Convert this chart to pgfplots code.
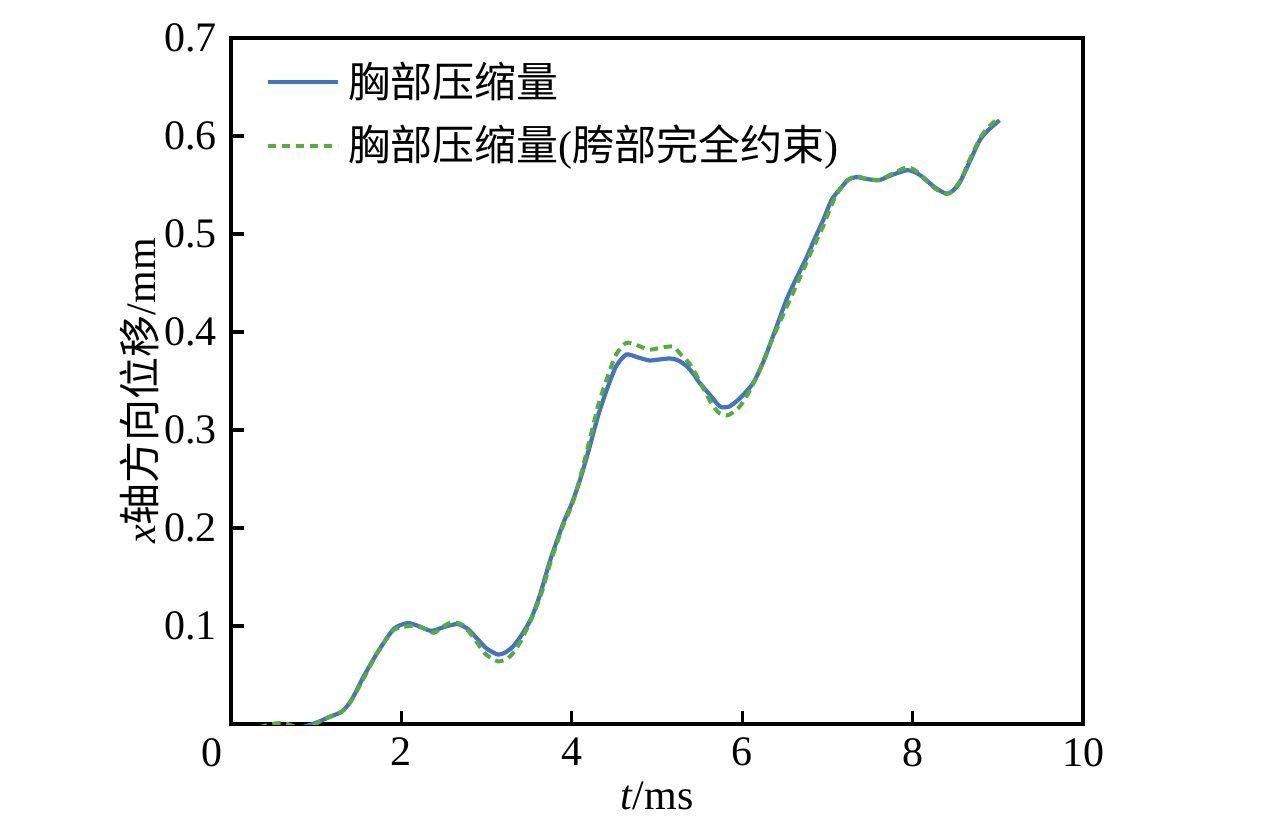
\documentclass[border=0pt]{standalone}
\usepackage{pgfplots}
\pgfplotsset{compat=1.18}
\usepackage{fontspec}
\setmainfont{Liberation Serif}
\newfontfamily\cjk{Noto Sans CJK SC}
\definecolor{cblue}{RGB}{68,114,196}
\definecolor{cgreen}{RGB}{82,176,58}
\begin{document}
\begin{tikzpicture}
\begin{axis}[
  scale only axis,
  width=213pt, height=171.5pt,
  xmin=0, xmax=10, ymin=0, ymax=0.7,
  xtick={2,4,6,8,10},
  ytick={0.1,0.2,0.3,0.4,0.5,0.6,0.7},
  yticklabel style={/pgf/number format/fixed, /pgf/number format/precision=1, /pgf/number format/fixed zerofill},
  /pgf/number format/assume math mode=true,
  xtick pos=left, ytick pos=left,
  tick align=inside,
  major tick length=3.3pt,
  axis line style={line width=0.8pt},
  every tick/.style={black, line width=0.8pt},
  tick label style={font=\fontsize{10.5pt}{12.6pt}\selectfont},
  label style={font=\fontsize{10.5pt}{12.6pt}\selectfont},
  xlabel={\textit{t}/ms},
  ylabel={\textit{x}{\cjk 轴方向位移}/mm},
  xlabel style={yshift=3pt},
  ylabel style={yshift=-5.5pt, xshift=-2.5pt},
  clip mode=individual,
  legend style={draw=none, fill=none, at={(0.026,0.99)}, anchor=north west,
    font=\fontsize{10.5pt}{12.6pt}\selectfont, row sep=1.5pt},
  legend cell align=left,
  legend image code/.code={\draw[#1] (0pt,0pt) -- (17.5pt,0pt);},
]
\addplot[cblue, line width=1.05pt, smooth, tension=0.4] coordinates {
(0,-0.004) (0.3,-0.005) (0.6,-0.006) (0.85,-0.003) (1.02,0.002) (1.15,0.007) (1.29,0.012) (1.37,0.019) (1.45,0.03) (1.56,0.049) (1.72,0.073) (1.91,0.097) (2.07,0.103) (2.2,0.100) (2.35,0.095) (2.5,0.099) (2.66,0.102) (2.78,0.097) (2.89,0.087) (3.0,0.077) (3.13,0.071) (3.22,0.073) (3.32,0.080) (3.42,0.092) (3.52,0.107) (3.62,0.13) (3.75,0.168) (3.9,0.205) (4.0,0.225) (4.1,0.25) (4.21,0.283) (4.31,0.315) (4.41,0.341) (4.52,0.365) (4.64,0.377) (4.78,0.374) (4.91,0.371) (5.03,0.372) (5.15,0.373) (5.25,0.371) (5.35,0.365) (5.43,0.357) (5.50,0.348) (5.62,0.336) (5.74,0.324) (5.85,0.324) (5.98,0.333) (6.13,0.348) (6.25,0.37) (6.38,0.40) (6.52,0.433) (6.62,0.452) (6.75,0.475) (6.85,0.495) (6.95,0.514) (7.05,0.535) (7.14,0.545) (7.24,0.555) (7.34,0.558) (7.47,0.556) (7.61,0.555) (7.75,0.560) (7.93,0.565) (8.03,0.563) (8.12,0.558) (8.27,0.547) (8.40,0.541) (8.47,0.544) (8.55,0.552) (8.65,0.570) (8.79,0.596) (8.9,0.607) (9.02,0.616)
};
\addlegendentry{{\cjk 胸部压缩量}}
\addplot[cgreen, line width=1.0pt, dash pattern=on 2.1pt off 1.4pt, smooth, tension=0.4] coordinates {
(0,-0.006) (0.25,-0.005) (0.45,-0.0005) (0.55,0.0008) (0.65,0.0003) (0.8,-0.004) (0.95,-0.002) (1.05,0.003) (1.2,0.009) (1.3,0.013) (1.4,0.022) (1.56,0.047) (1.72,0.073) (1.91,0.096) (2.11,0.100) (2.25,0.098) (2.38,0.093) (2.5,0.100) (2.6,0.104) (2.72,0.101) (2.85,0.088) (2.98,0.072) (3.13,0.064) (3.25,0.067) (3.35,0.077) (3.45,0.093) (3.55,0.112) (3.65,0.135) (3.75,0.165) (3.9,0.203) (4.0,0.223) (4.1,0.252) (4.21,0.29) (4.31,0.325) (4.41,0.352) (4.52,0.377) (4.64,0.389) (4.78,0.386) (4.91,0.382) (5.05,0.384) (5.19,0.385) (5.3,0.375) (5.38,0.368) (5.5,0.35) (5.62,0.33) (5.72,0.318) (5.83,0.315) (5.95,0.322) (6.05,0.334) (6.2,0.36) (6.35,0.392) (6.56,0.433) (6.7,0.46) (6.8,0.48) (6.95,0.508) (7.05,0.53) (7.14,0.545) (7.24,0.555) (7.34,0.559) (7.47,0.556) (7.61,0.555) (7.75,0.561) (7.93,0.568) (8.03,0.565) (8.12,0.558) (8.27,0.546) (8.40,0.541) (8.48,0.545) (8.57,0.556) (8.67,0.576) (8.8,0.599) (8.9,0.61) (9.02,0.619)
};
\addlegendentry{{\cjk 胸部压缩量}({\cjk 胯部完全约束})}
\node[anchor=north, xshift=-4.75pt, font=\fontsize{10.5pt}{12.6pt}\selectfont] at (axis cs:0,0) {0};
\coordinate (bl) at (rel axis cs:-0.2711,-0.1356);
\coordinate (tr) at (rel axis cs:1.2265,1.0554);
\end{axis}
\path (bl) rectangle (tr);
\end{tikzpicture}
\end{document}
